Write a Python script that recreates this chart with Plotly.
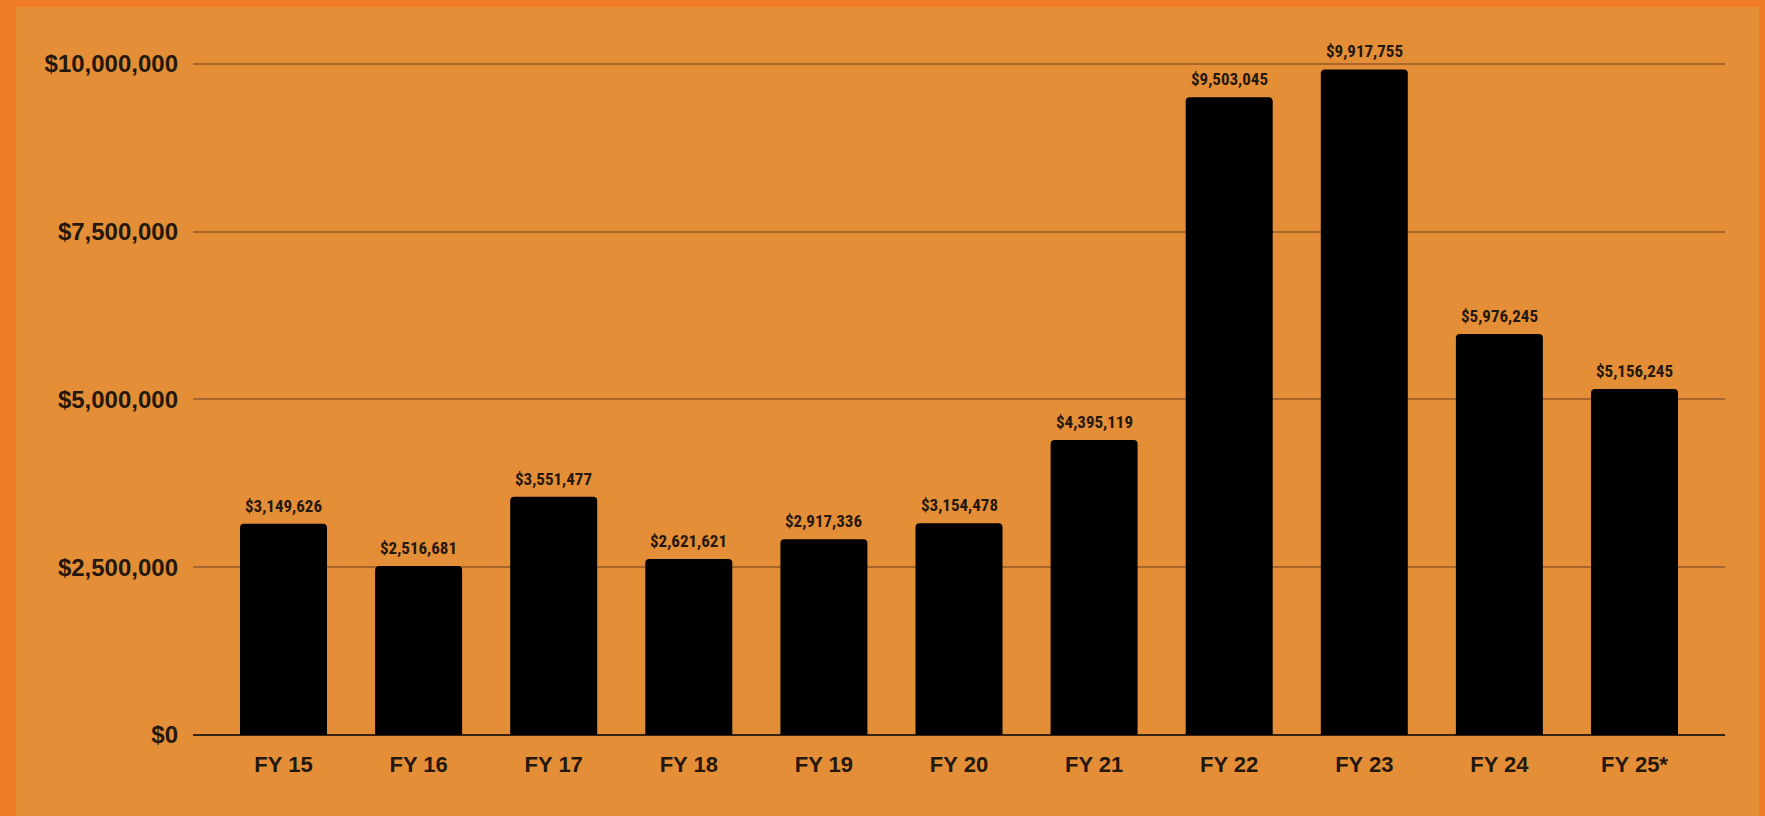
import plotly.graph_objects as go

categories = ["FY 15", "FY 16", "FY 17", "FY 18", "FY 19", "FY 20", "FY 21", "FY 22", "FY 23", "FY 24", "FY 25*"]
values = [3149626, 2516681, 3551477, 2621621, 2917336, 3154478, 4395119, 9503045, 9917755, 5976245, 5156245]
tick_vals = [0, 2500000, 5000000, 7500000, 10000000]
tick_text = ["$0", "$2,500,000", "$5,000,000", "$7,500,000", "$10,000,000"]

W, H = 1765, 816
bg = "#E58E38"
border = "#F07C28"
txt = "#24180c"
narrow = "Liberation Sans Narrow, Roboto Condensed, Arial Narrow, DejaVu Sans Condensed, sans-serif"
sans = "Liberation Sans, Arial, sans-serif"

fig = go.Figure()
fig.add_trace(go.Bar(
    x=categories, y=values,
    marker=dict(color="#000000", line=dict(width=0), cornerradius=4),
    hoverinfo="skip",
))

for c, v in zip(categories, values):
    fig.add_annotation(
        x=c, y=v, text="${:,}".format(v), showarrow=False,
        yanchor="bottom", yshift=6,
        font=dict(family=narrow, size=17, color=txt, weight="bold"),
    )

fig.add_shape(type="rect", xref="paper", yref="paper",
              x0=-(193 - 16) / (W - 193 - 40), x1=1 + (1759 - 1725) / (W - 193 - 40),
              y0=-81 / (H - 40 - 81), y1=1 + (40 - 7) / (H - 40 - 81),
              fillcolor=bg, line=dict(width=0), layer="below")

fig.update_layout(
    width=W, height=H,
    margin=dict(l=193, r=40, t=40, b=81),
    paper_bgcolor=border,
    plot_bgcolor="rgba(0,0,0,0)",
    bargap=0.356,
    showlegend=False,
    xaxis=dict(
        range=[-0.67, len(categories) - 1 + 0.67],
        showgrid=False, showline=False, zeroline=False,
        ticks="", ticklabelstandoff=14,
        tickfont=dict(family=sans, size=22, color=txt, weight="bold"),
    ),
    yaxis=dict(
        range=[0, 10357000],
        tickvals=tick_vals, ticktext=tick_text,
        showgrid=True, gridcolor="#A8662C", gridwidth=1.5,
        zeroline=True, zerolinecolor="#3a2410", zerolinewidth=2,
        showline=False, ticks="", ticklabelstandoff=14,
        tickfont=dict(family=sans, size=24, color=txt, weight="bold"),
    ),
)

fig.write_html("out.html", config={"displayModeBar": False},
               post_script="document.body.style.margin='0';document.body.style.overflow='hidden';")
